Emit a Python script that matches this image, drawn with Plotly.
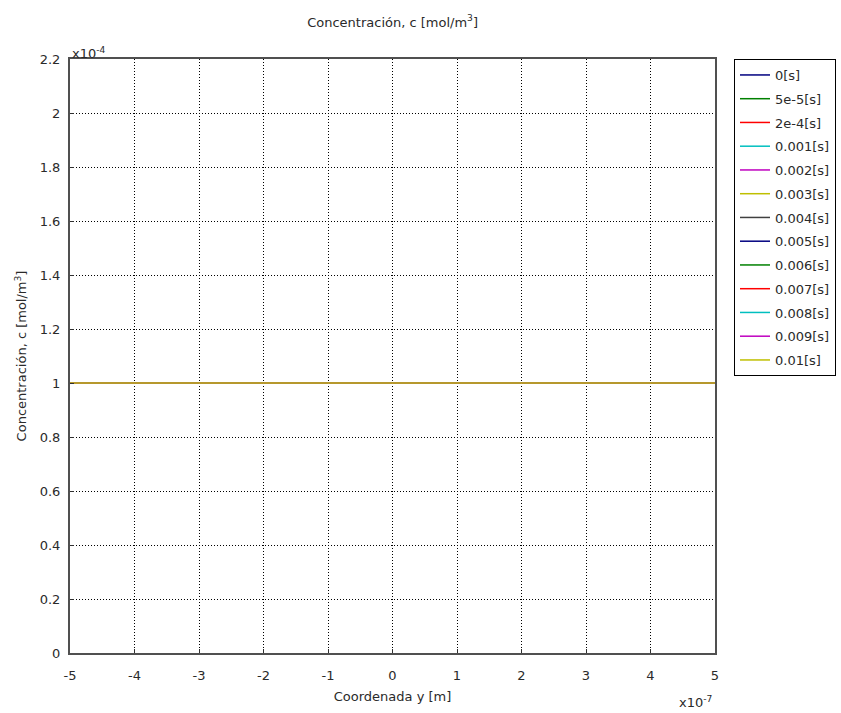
import plotly.graph_objects as go

# Coordinate along the domain [m]
y_coord = [-5e-7, -4e-7, -3e-7, -2e-7, -1e-7, 0.0, 1e-7, 2e-7, 3e-7, 4e-7, 5e-7]

# Time labels for each concentration profile
time_labels = ["0[s]", "5e-5[s]", "2e-4[s]", "0.001[s]", "0.002[s]", "0.003[s]",
               "0.004[s]", "0.005[s]", "0.006[s]", "0.007[s]", "0.008[s]",
               "0.009[s]", "0.01[s]"]

# Concentration profiles c(y) [mol/m^3], one per time
conc_profiles = [
    [1e-4, 1e-4, 1e-4, 1e-4, 1e-4, 1e-4, 1e-4, 1e-4, 1e-4, 1e-4, 1e-4],
    [1e-4, 1e-4, 1e-4, 1e-4, 1e-4, 1e-4, 1e-4, 1e-4, 1e-4, 1e-4, 1e-4],
    [1e-4, 1e-4, 1e-4, 1e-4, 1e-4, 1e-4, 1e-4, 1e-4, 1e-4, 1e-4, 1e-4],
    [1e-4, 1e-4, 1e-4, 1e-4, 1e-4, 1e-4, 1e-4, 1e-4, 1e-4, 1e-4, 1e-4],
    [1e-4, 1e-4, 1e-4, 1e-4, 1e-4, 1e-4, 1e-4, 1e-4, 1e-4, 1e-4, 1e-4],
    [1e-4, 1e-4, 1e-4, 1e-4, 1e-4, 1e-4, 1e-4, 1e-4, 1e-4, 1e-4, 1e-4],
    [1e-4, 1e-4, 1e-4, 1e-4, 1e-4, 1e-4, 1e-4, 1e-4, 1e-4, 1e-4, 1e-4],
    [1e-4, 1e-4, 1e-4, 1e-4, 1e-4, 1e-4, 1e-4, 1e-4, 1e-4, 1e-4, 1e-4],
    [1e-4, 1e-4, 1e-4, 1e-4, 1e-4, 1e-4, 1e-4, 1e-4, 1e-4, 1e-4, 1e-4],
    [1e-4, 1e-4, 1e-4, 1e-4, 1e-4, 1e-4, 1e-4, 1e-4, 1e-4, 1e-4, 1e-4],
    [1e-4, 1e-4, 1e-4, 1e-4, 1e-4, 1e-4, 1e-4, 1e-4, 1e-4, 1e-4, 1e-4],
    [1e-4, 1e-4, 1e-4, 1e-4, 1e-4, 1e-4, 1e-4, 1e-4, 1e-4, 1e-4, 1e-4],
    [1e-4, 1e-4, 1e-4, 1e-4, 1e-4, 1e-4, 1e-4, 1e-4, 1e-4, 1e-4, 1e-4],
]

line_colors = ["#000080", "#008000", "#ff0000", "#00bfbf", "#bf00bf", "#bfbf00",
               "#404040", "#000080", "#008000", "#ff0000", "#00bfbf", "#bf00bf",
               "#bfbf00"]

# Axis ticks (values in SI units, labels scaled by the exponent shown)
x_tickvals = [-5e-7, -4e-7, -3e-7, -2e-7, -1e-7, 0.0, 1e-7, 2e-7, 3e-7, 4e-7, 5e-7]
x_ticktext = ["-5", "-4", "-3", "-2", "-1", "0", "1", "2", "3", "4", "5"]
y_tickvals = [0.0, 0.2e-4, 0.4e-4, 0.6e-4, 0.8e-4, 1.0e-4, 1.2e-4, 1.4e-4,
              1.6e-4, 1.8e-4, 2.0e-4, 2.2e-4]
y_ticktext = ["0", "0.2", "0.4", "0.6", "0.8", "1", "1.2", "1.4", "1.6", "1.8",
              "2", "2.2"]

FONT = "DejaVu Sans"
FS = 13
TXT = "#2a2a2a"

fig = go.Figure()
for i, (lbl, conc, col) in enumerate(zip(time_labels, conc_profiles, line_colors)):
    fig.add_trace(go.Scatter(
        x=y_coord, y=conc, mode="lines", name=lbl, legendgroup=f"g{i:02d}",
        line=dict(color=col, width=1.5),
    ))

axis_common = dict(
    showline=True, linecolor="#505050", linewidth=2, mirror=True,
    ticks="inside", ticklen=4, tickcolor="#303030", tickwidth=1,
    showgrid=True, gridcolor="#000000", gridwidth=1, griddash="1px,2px",
    zeroline=False, tickfont=dict(family=FONT, size=FS, color=TXT),
)

fig.update_layout(
    width=841, height=713,
    margin=dict(l=70, r=126, t=59, b=60, autoexpand=False),
    paper_bgcolor="white", plot_bgcolor="white",
    font=dict(family=FONT, size=FS, color=TXT),
    title=dict(text="Concentración, c [mol/m<sup>3</sup>]", x=0.4668, xanchor="center",
               y=1 - 22 / 713, yanchor="middle",
               font=dict(family=FONT, size=FS, color=TXT)),
    xaxis=dict(range=[-5e-7, 5e-7], tickvals=x_tickvals, ticktext=x_ticktext,
               ticklabelstandoff=9,
               title=dict(text="Coordenada y [m]", standoff=10,
                          font=dict(family=FONT, size=FS, color=TXT)),
               **axis_common),
    yaxis=dict(range=[0, 2.2e-4], tickvals=y_tickvals, ticktext=y_ticktext,
               ticklabelstandoff=5,
               title=dict(text="Concentración, c [mol/m<sup>3</sup>]", standoff=10,
                          font=dict(family=FONT, size=FS, color=TXT)),
               **axis_common),
    legend=dict(x=(734 - 70) / 645, xanchor="left", y=1.0, yanchor="top",
                bordercolor="#000000", borderwidth=1, bgcolor="white",
                tracegroupgap=3.85, font=dict(family=FONT, size=FS, color=TXT),
                itemwidth=30, traceorder="grouped"),
    showlegend=True,
)

# Axis exponent labels
fig.add_annotation(x=0, y=1, xref="paper", yref="paper", xanchor="left", yanchor="bottom",
                   text="x10<sup>-4</sup>", showarrow=False, xshift=0, yshift=-4,
                   font=dict(family=FONT, size=FS, color=TXT))
fig.add_annotation(x=1, y=0, xref="paper", yref="paper", xanchor="right", yanchor="top",
                   text="x10<sup>-7</sup>", showarrow=False, yshift=-39,
                   font=dict(family=FONT, size=FS, color=TXT))

fig.write_html("out.html")
